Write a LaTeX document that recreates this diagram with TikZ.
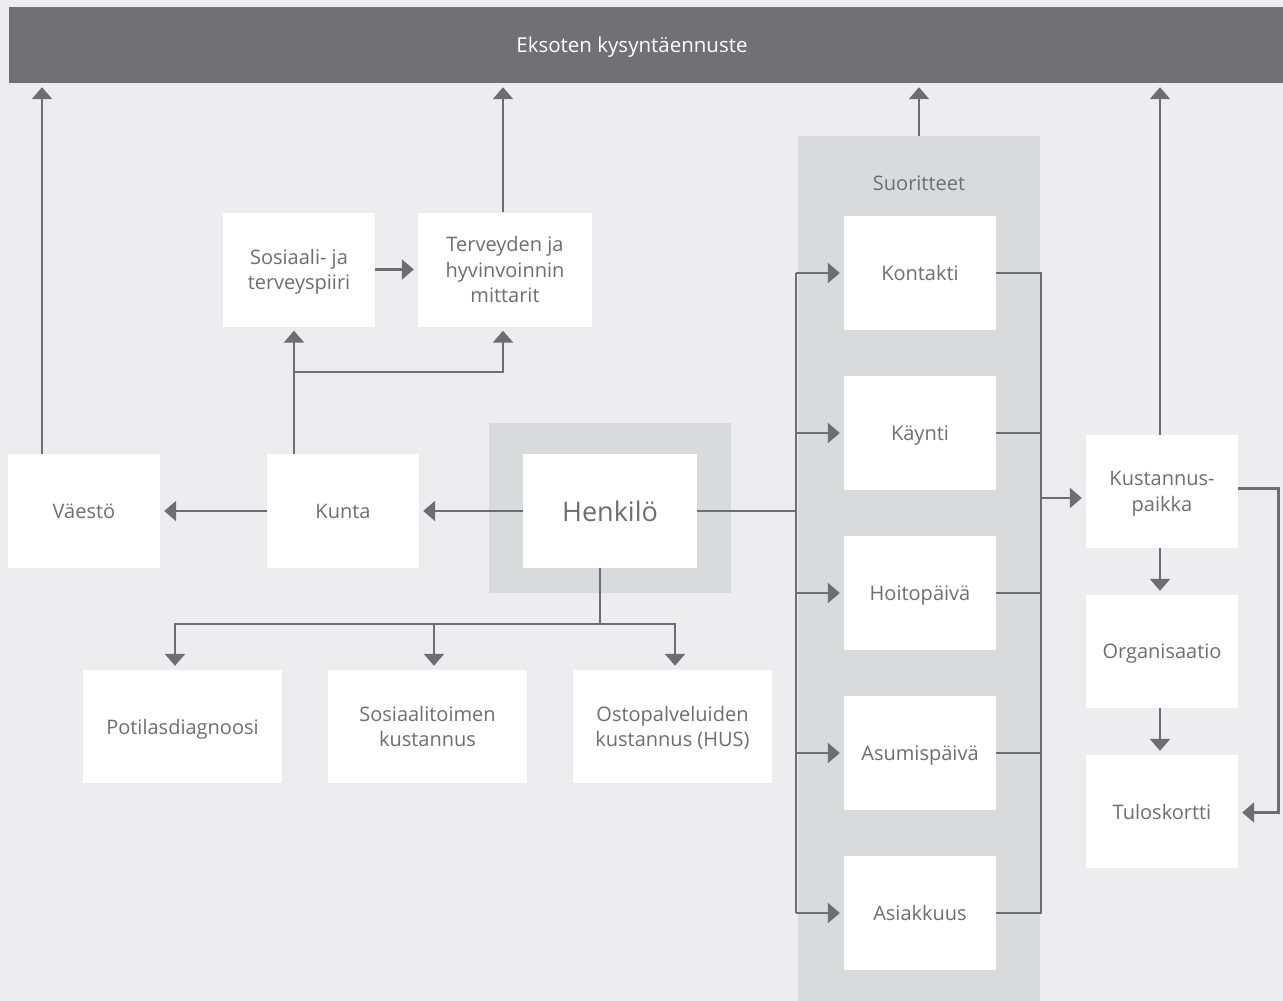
\documentclass[tikz,border=0pt]{standalone}
\usepackage{fontspec}
\setmainfont{Open Sans}
\usetikzlibrary{arrows.meta,calc}
\definecolor{bgcol}{HTML}{EDEDEF}
\definecolor{barcol}{HTML}{717074}
\definecolor{grpcol}{HTML}{D9DADC}
\definecolor{inkcol}{HTML}{6D6E71}
\begin{document}
\begin{tikzpicture}[x=1pt,y=-1pt,
  box/.style={fill=white,draw=none,minimum width=152pt,minimum height=114pt,inner sep=0pt,
    align=center,text=inkcol,font=\fontsize{20}{25.5}\selectfont,text depth=0pt},
  widebox/.style={box,minimum width=174pt},
  lowbox/.style={box,minimum width=199pt,minimum height=113pt},
  group/.style={fill=grpcol,draw=none,inner sep=0pt},
  conn/.style={draw=inkcol,line width=2.6pt},
  arr/.style={conn,-{Triangle[length=12pt,width=20pt]},shorten >=4pt}]
% canvas
\fill[bgcol] (0,0) rectangle (1283,1001);
\useasboundingbox (0,0) rectangle (1283,1001);

% top bar
\node[fill=barcol,minimum width=1274pt,minimum height=76pt,inner sep=0pt] (bar) at (646,45) {};
\node[text=white,font=\fontsize{20.5}{25}\selectfont] (bartext) at (632,47) {Eksoten kysyntäennuste};

% grey groups
\node[group,minimum width=242pt,minimum height=170pt] (hgrp) at (610,508) {};
\node[group,minimum width=242pt,minimum height=865pt] (suor) at (919,568.5) {};
\node[text=inkcol,font=\fontsize{20}{25}\selectfont] (suorlabel) at (919,183) {Suoritteet};

% left part
\node[box] (vaesto) at (84,511) {Väestö};
\node[box] (kunta) at (343,511) {Kunta};
\node[widebox,font=\fontsize{27}{30}\selectfont] (henk) at (610,511) {Henkilö};
\node[box] (sote) at (299,269.5) {Sosiaali- ja\\terveyspiiri};
\node[widebox] (thl) at (505,269.5) {Terveyden ja\\hyvinvoinnin\\mittarit};

% bottom row
\node[lowbox] (pot) at (182.5,726.5) {Potilasdiagnoosi};
\node[lowbox] (sostoim) at (427.5,726.5) {Sosiaalitoimen\\kustannus};
\node[lowbox] (osto) at (672.5,726.5) {Ostopalveluiden\\kustannus (HUS)};

% performance boxes
\node[box] (kontakti) at (920,273) {Kontakti};
\node[box] (kaynti) at (920,433) {Käynti};
\node[box] (hoito) at (920,593) {Hoitopäivä};
\node[box] (asumis) at (920,753) {Asumispäivä};
\node[box] (asiakkuus) at (920,913) {Asiakkuus};

% right column
\node[box,minimum height=113pt] (kust) at (1162,491.5) {Kustannus-\\paikka};
\node[box,minimum height=113pt] (org) at (1162,651.5) {Organisaatio};
\node[box,minimum height=113pt] (tulos) at (1162,811.5) {Tuloskortti};

% arrows into the top bar
\draw[arr] ([xshift=-42pt]vaesto.north) -- ([xshift=-42pt]vaesto.north |- bar.south);
\draw[arr] ([xshift=-2pt]thl.north) -- ([xshift=-2pt]thl.north |- bar.south);
\draw[arr] (suor.north) -- (suor.north |- bar.south);
\draw[arr] ([xshift=-2pt]kust.north) -- ([xshift=-2pt]kust.north |- bar.south);

% person to municipality to population
\draw[arr] (henk.west) -- (kunta.east);
\draw[arr] (kunta.west) -- (vaesto.east);

% municipality upward
\coordinate (kj) at (294,372);
\draw[conn] ([xshift=-49pt]kunta.north) -- (kj);
\draw[arr] (kj) -- (kj |- sote.south);
\draw[arr] (kj) -| ([xshift=-2pt]thl.south);
\draw[arr] (sote.east) -- (thl.west);

% person downward
\coordinate (hb) at (600,624);
\draw[conn] ([xshift=-10pt]henk.south) -- (hb);
\draw[arr] (hb) -| ([xshift=-7.5pt]pot.north);
\draw[arr] (hb) -| ([xshift=6.5pt]sostoim.north);
\draw[arr] (hb) -| ([xshift=2.5pt]osto.north);

% person to performances
\coordinate (lb) at (796,511);
\draw[conn] (henk.east) -- (lb);
\draw[conn] (lb |- kontakti) -- (lb |- asiakkuus);
\foreach \n in {kontakti,kaynti,hoito,asumis,asiakkuus}
  \draw[arr] (lb |- \n) -- (\n.west);

% performances to cost centre
\coordinate (rb) at (1041,498);
\draw[conn] (kontakti.east) -- (kontakti.east -| rb) -- (asiakkuus.east -| rb) -- (asiakkuus.east);
\foreach \n in {kaynti,hoito,asumis}
  \draw[conn] (\n.east) -- (\n.east -| rb);
\draw[arr] (rb) -- (rb -| kust.west);

% right column flow
\draw[arr] ([xshift=-2pt]kust.south) -- ([xshift=-2pt]org.north);
\draw[arr] ([xshift=-2pt]org.south) -- ([xshift=-2pt]tulos.north);
\draw[arr] ([yshift=3pt]kust.east) -- ++(40,0) |- ([yshift=-1pt]tulos.east);
\end{tikzpicture}
\end{document}
